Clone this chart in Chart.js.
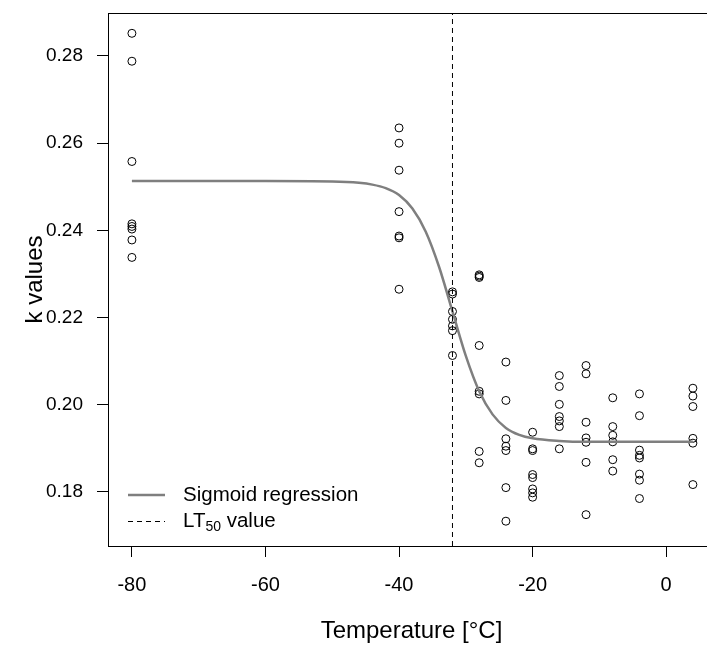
<!DOCTYPE html>
<html>
<head>
<meta charset="utf-8">
<script src="https://cdn.jsdelivr.net/npm/chart.js@4.4.1/dist/chart.umd.min.js"></script>
<style>
html,body{margin:0;padding:0;background:#fff;overflow:hidden;width:707px;height:646px;}
#wrap{position:absolute;left:0;top:0;width:720px;height:646px;}
canvas{display:block;}
</style>
</head>
<body>
<div id="wrap"><canvas id="c" width="720" height="646"></canvas></div>
<script>
// ---- data ----
const temperatures = [-80, -40, -32, -28, -24, -20, -16, -12, -8, -4, 4];
const kM80 = [0.2852, 0.2788, 0.2558, 0.2415, 0.2409, 0.2403, 0.2378, 0.2338];
const kM40 = [0.2635, 0.2600, 0.2538, 0.2443, 0.2387, 0.2383, 0.2265];
const kM32 = [0.2259, 0.2254, 0.2214, 0.2196, 0.2181, 0.2170, 0.2113];
const kM28 = [0.2298, 0.2295, 0.2292, 0.2136, 0.2031, 0.2025, 0.1893, 0.1867];
const kM24 = [0.2098, 0.2010, 0.1922, 0.1905, 0.1895, 0.1810, 0.1733];
const kM20 = [0.1937, 0.1899, 0.1895, 0.1840, 0.1833, 0.1807, 0.1798, 0.1788];
const kM16 = [0.2067, 0.2042, 0.2001, 0.1973, 0.1963, 0.1950, 0.1899];
const kM12 = [0.2090, 0.2071, 0.1960, 0.1924, 0.1914, 0.1868, 0.1748];
const kM8  = [0.2016, 0.1950, 0.1930, 0.1915, 0.1874, 0.1848];
const kM4  = [0.2025, 0.1975, 0.1896, 0.1884, 0.1878, 0.1841, 0.1827, 0.1785];
const kP4  = [0.2038, 0.2020, 0.1996, 0.1923, 0.1912, 0.1817];
const kGroups = [kM80, kM40, kM32, kM28, kM24, kM20, kM16, kM12, kM8, kM4, kP4];

// sigmoid regression curve
const curveX = [-80, -70, -60, -50, -46, -44, -42, -40, -38, -36, -34, -32, -30, -28, -26, -24, -22, -20, -16, -12, -8, -4, 0, 4];
const curveY = [0.2513, 0.2513, 0.2513, 0.2512, 0.2509, 0.2505, 0.2497, 0.2481, 0.2450, 0.2397, 0.2316, 0.2214, 0.2112, 0.2031, 0.1978, 0.1947, 0.1931, 0.1923, 0.1917, 0.1915, 0.1915, 0.1915, 0.1915, 0.1915];

const lt50 = -32;
const xTicks = [-80, -60, -40, -20, 0];
const yTicks = [0.18, 0.20, 0.22, 0.24, 0.26, 0.28];
const xRange = [-83.58, 7.31];
const yRange = [0.16761, 0.28986];

const scatter = [];
temperatures.forEach((t, i) => kGroups[i].forEach(v => scatter.push({x: t, y: v})));
const curve = curveX.map((x, i) => ({x: x, y: curveY[i]}));
const ltLine = [{x: lt50, y: yRange[0]}, {x: lt50, y: yRange[1]}];

const FONT = "'Liberation Sans', Arial, sans-serif";

const framePlugin = {
  id: 'frame',
  afterDraw(chart) {
    const ctx = chart.ctx, a = chart.chartArea;
    ctx.save();
    ctx.strokeStyle = '#000';
    ctx.lineWidth = 1;
    ctx.strokeRect(Math.round(a.left) + 0.5, Math.round(a.top) + 0.5, Math.round(a.right - a.left), Math.round(a.bottom - a.top));
    // legend
    const lx1 = 128, lx2 = 165, ly1 = 495, ly2 = 521;
    ctx.strokeStyle = '#7f7f7f';
    ctx.lineWidth = 2.5;
    ctx.beginPath(); ctx.moveTo(lx1, ly1); ctx.lineTo(lx2, ly1); ctx.stroke();
    ctx.strokeStyle = '#000';
    ctx.lineWidth = 1;
    ctx.setLineDash([5, 4]);
    ctx.beginPath(); ctx.moveTo(lx1, ly2 + 0.5); ctx.lineTo(lx2, ly2 + 0.5); ctx.stroke();
    ctx.setLineDash([]);
    ctx.fillStyle = '#000';
    ctx.textBaseline = 'middle';
    ctx.textAlign = 'left';
    ctx.font = '20.5px ' + FONT;
    ctx.fillText('Sigmoid regression', 183, ly1);
    ctx.fillText('LT', 183, ly2);
    const w = ctx.measureText('LT').width;
    ctx.font = '14px ' + FONT;
    ctx.fillText('50', 183 + w, ly2 + 6);
    const w2 = ctx.measureText('50').width;
    ctx.font = '20.5px ' + FONT;
    ctx.fillText(' value', 183 + w + w2, ly2);
    // axis titles
    ctx.font = '24px ' + FONT;
    ctx.textAlign = 'center';
    ctx.fillText('Temperature [°C]', (a.left + a.right) / 2, 631);
    ctx.save();
    ctx.translate(35, (a.top + a.bottom) / 2);
    ctx.rotate(-Math.PI / 2);
    ctx.fillText('k values', 0, 0);
    ctx.restore();
    ctx.restore();
  }
};

new Chart(document.getElementById('c'), {
  type: 'scatter',
  data: {
    datasets: [
      {
        label: 'LT50 value',
        type: 'line',
        data: ltLine,
        borderColor: '#000',
        borderWidth: 1,
        borderDash: [5, 4],
        pointRadius: 0,
        fill: false,
        order: 1
      },
      {
        label: 'Sigmoid regression',
        type: 'line',
        data: curve,
        borderColor: '#7f7f7f',
        borderWidth: 2.5,
        pointRadius: 0,
        cubicInterpolationMode: 'monotone',
        fill: false,
        order: 2
      },
      {
        label: 'k values',
        data: scatter,
        borderColor: '#000',
        backgroundColor: 'rgba(0,0,0,0)',
        borderWidth: 1,
        pointRadius: 4,
        pointHoverRadius: 4,
        order: 3
      }
    ]
  },
  options: {
    responsive: false,
    animation: false,
    events: [],
    layout: {padding: {left: 0, right: 3, top: 13, bottom: 0}},
    plugins: {legend: {display: false}, tooltip: {enabled: false}},
    scales: {
      x: {
        type: 'linear',
        min: xRange[0], max: xRange[1],
        afterBuildTicks: s => { s.ticks = xTicks.map(v => ({value: v})); },
        afterFit: s => { s.height = 100; s.paddingLeft = 0; s.paddingRight = 0; },
        grid: {display: true, drawOnChartArea: false, drawTicks: true, tickLength: 11, color: '#000', lineWidth: 1},
        border: {display: true, color: '#000'},
        ticks: {color: '#000', font: {family: FONT, size: 20}, padding: 16, maxRotation: 0, callback: v => String(v)}
      },
      y: {
        type: 'linear',
        min: yRange[0], max: yRange[1],
        afterBuildTicks: s => { s.ticks = yTicks.map(v => ({value: v})); },
        afterFit: s => { s.width = 108; s.paddingTop = 0; s.paddingBottom = 0; },
        grid: {display: true, drawOnChartArea: false, drawTicks: true, tickLength: 11, color: '#000', lineWidth: 1},
        border: {display: true, color: '#000'},
        ticks: {color: '#000', font: {family: FONT, size: 19}, padding: 14, callback: v => v.toFixed(2)}
      }
    }
  },
  plugins: [framePlugin]
});
</script>
</body>
</html>
